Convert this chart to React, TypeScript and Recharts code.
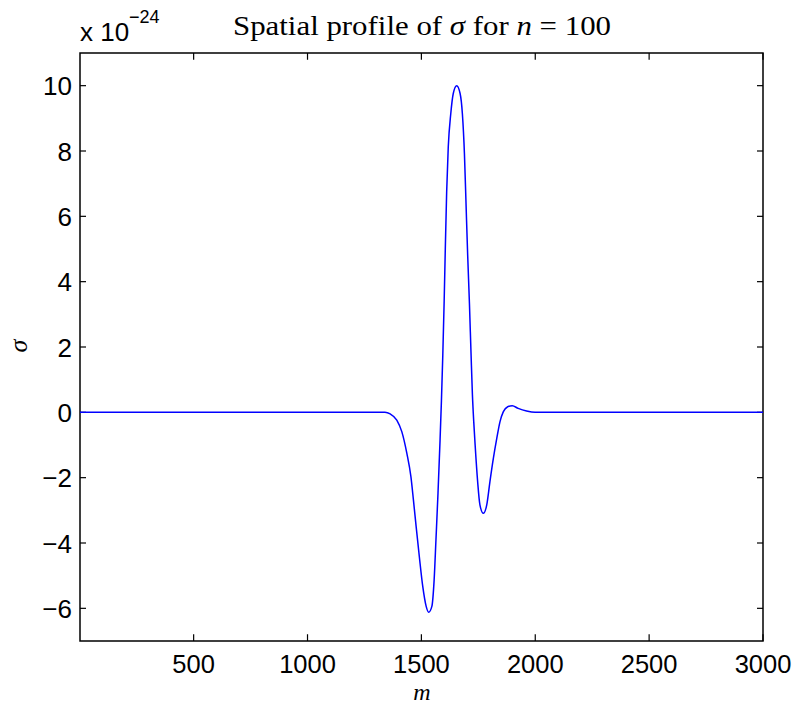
import React from "react";
import { LineChart, Line, XAxis, YAxis, ReferenceArea, ReferenceLine } from "recharts";

const mValues = [1, 500, 1000, 1300, 1340, 1363, 1392, 1414, 1436, 1454, 1465, 1477, 1491, 1506, 1521, 1532, 1546, 1556, 1564, 1573, 1582, 1588, 1594, 1600, 1605, 1611, 1618, 1629, 1640, 1655, 1670, 1680, 1689, 1696, 1703, 1711, 1718, 1724, 1730, 1736, 1747, 1757, 1772, 1787, 1801, 1816, 1831, 1845, 1860, 1879, 1899, 1925, 1962, 1999, 2050, 2500, 3000];
// sigma in units of 1e-24
const sigmaValues = [0, 0, 0, 0, 0, -0.05, -0.235, -0.59, -1.25, -1.97, -2.68, -3.5, -4.42, -5.33, -5.94, -6.12, -5.94, -5.13, -3.9, -2.47, -0.85, 0.35, 1.75, 3.4, 5.0, 6.75, 8.12, 9.14, 9.76, 10.0, 9.76, 9.14, 7.92, 6.39, 4.86, 3.33, 1.8, 0.55, -0.3, -1.0, -2.12, -2.83, -3.09, -2.83, -2.12, -1.41, -0.8, -0.29, 0.02, 0.17, 0.2, 0.12, 0.04, 0.0, 0, 0, 0];

const xTicks = [500, 1000, 1500, 2000, 2500, 3000];
const yTicks = [-6, -4, -2, 0, 2, 4, 6, 8, 10];
const yTickLabels = ["\u22126", "\u22124", "\u22122", "0", "2", "4", "6", "8", "10"];

const X_MIN = 1;
const X_MAX = 3000;
const Y_MIN = -7;
const Y_MAX = 11;
// inward tick lengths in data units
const X_TICK_LEN = (Y_MAX - Y_MIN) * 0.0115;
const Y_TICK_LEN = (X_MAX - X_MIN) * 0.0088;

const data = mValues.map((m, i) => ({ m, sigma: sigmaValues[i] }));

const SANS = "'Liberation Sans', Arial, Helvetica, sans-serif";
const SERIF = "'Liberation Serif', 'Times New Roman', serif";

const BottomTick = (props: any) => {
  const { x, payload } = props;
  return (
    <text x={x} y={673} textAnchor="middle" fontFamily={SANS} fontSize={25.5} fill="#000">
      {String(payload.value)}
    </text>
  );
};

const LeftTick = (props: any) => {
  const { y, payload } = props;
  const idx = yTicks.indexOf(payload.value);
  return (
    <text x={72} y={y + 9.5} textAnchor="end" fontFamily={SANS} fontSize={26} fill="#000">
      {idx >= 0 ? yTickLabels[idx] : String(payload.value)}
    </text>
  );
};

export default function App() {
  const tickStroke = { stroke: "#000", strokeWidth: 1.2 };
  return (
    <div style={{ position: "absolute", left: 0, top: 0, width: 798, height: 706, background: "#fff" }}>
      <LineChart
        width={798}
        height={706}
        data={data}
        margin={{ top: 53, right: 35, bottom: 35, left: 20 }}
      >
        <XAxis
          dataKey="m"
          type="number"
          domain={[X_MIN, X_MAX]}
          ticks={xTicks}
          height={30}
          tickLine={false}
          axisLine={false}
          tick={<BottomTick />}
          allowDataOverflow
        />
        <YAxis
          type="number"
          domain={[Y_MIN, Y_MAX]}
          ticks={yTicks}
          width={60}
          tickLine={false}
          axisLine={false}
          tick={<LeftTick />}
          allowDataOverflow
        />
        <ReferenceArea
          x1={X_MIN}
          x2={X_MAX}
          y1={Y_MIN}
          y2={Y_MAX}
          fill="none"
          fillOpacity={0}
          stroke="#000"
          strokeWidth={1.5}
          strokeOpacity={1}
          ifOverflow="visible"
        />
        {xTicks.map((t) => (
          <ReferenceLine
            key={"xb" + t}
            segment={[{ x: t, y: Y_MIN }, { x: t, y: Y_MIN + X_TICK_LEN }]}
            {...tickStroke}
            ifOverflow="visible"
          />
        ))}
        {xTicks.map((t) => (
          <ReferenceLine
            key={"xt" + t}
            segment={[{ x: t, y: Y_MAX }, { x: t, y: Y_MAX - X_TICK_LEN }]}
            {...tickStroke}
            ifOverflow="visible"
          />
        ))}
        {yTicks.map((t) => (
          <ReferenceLine
            key={"yl" + t}
            segment={[{ x: X_MIN, y: t }, { x: X_MIN + Y_TICK_LEN, y: t }]}
            {...tickStroke}
            ifOverflow="visible"
          />
        ))}
        {yTicks.map((t) => (
          <ReferenceLine
            key={"yr" + t}
            segment={[{ x: X_MAX, y: t }, { x: X_MAX - Y_TICK_LEN, y: t }]}
            {...tickStroke}
            ifOverflow="visible"
          />
        ))}
        <Line
          type="monotone"
          dataKey="sigma"
          stroke="#0000ff"
          strokeWidth={1.5}
          dot={false}
          isAnimationActive={false}
        />
      </LineChart>
      <svg
        width={798}
        height={706}
        style={{ position: "absolute", left: 0, top: 0, pointerEvents: "none" }}
      >
        <text
          x={422}
          y={35}
          textAnchor="middle"
          fontFamily={SERIF}
          fontSize={27}
          fill="#000"
          textLength={378}
          lengthAdjust="spacingAndGlyphs"
        >
          Spatial profile of <tspan fontStyle="italic">σ</tspan> for <tspan fontStyle="italic">n</tspan> = 100
        </text>
        <text x={80} y={41} fontFamily={SANS} fontSize={26} fill="#000">
          x 10
        </text>
        <text x={129} y={23} fontFamily={SANS} fontSize={18} fill="#000">
          {"\u221224"}
        </text>
        <text x={422} y={700} textAnchor="middle" fontFamily={SERIF} fontSize={24} fontStyle="italic" fill="#000">
          m
        </text>
        <text
          x={0}
          y={0}
          transform="translate(27, 346) rotate(-90)"
          textAnchor="middle"
          fontFamily={SERIF}
          fontSize={26}
          fontStyle="italic"
          fill="#000"
        >
          σ
        </text>
      </svg>
    </div>
  );
}
